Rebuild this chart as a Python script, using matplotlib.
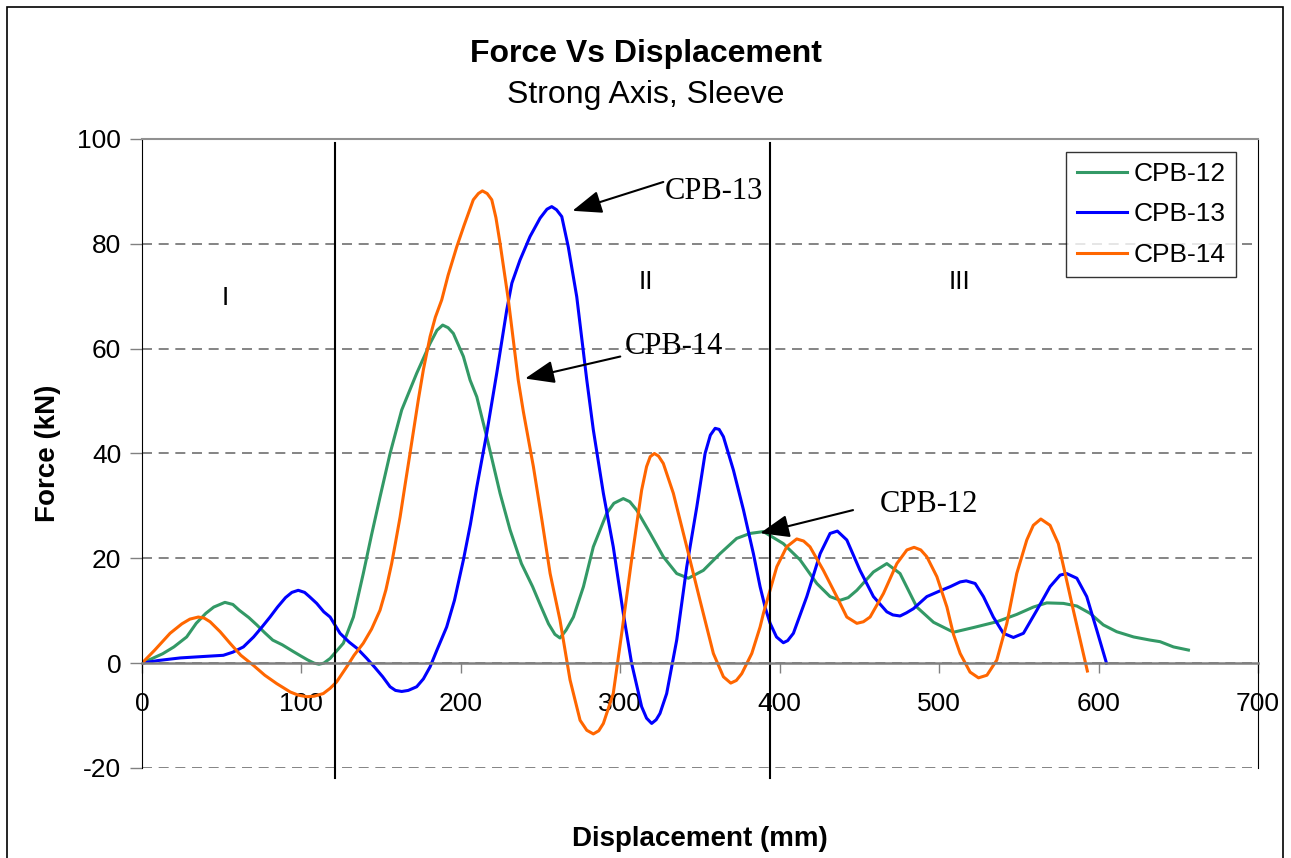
import matplotlib.pyplot as plt
from matplotlib.patches import Rectangle

plt.rcParams['font.family'] = ['Liberation Sans', 'DejaVu Sans']
plt.rcParams['axes.unicode_minus'] = False

# CPB-12
x12 = [0, 13, 20, 28, 34, 40, 45, 52, 57, 61, 67, 72, 77, 82, 88, 95, 100, 104, 108, 111, 114,
       118, 122, 126.3, 132.6, 138.8, 144, 149.3, 155.6, 162.9, 172.3, 180.7, 185, 188.6, 192,
       195.3, 201.6, 205.8, 210, 216.2, 224.6, 230.9, 238, 245, 250, 255, 259, 262.2, 266,
       270.6, 276.9, 283.1, 291.5, 296, 301.9, 306, 310.3, 318.7, 327, 335.4, 342.7, 352.1,
       362.6, 373, 381.4, 389.8, 402.3, 412.8, 423.3, 431.6, 437.9, 443, 448.4, 458.8, 467.2,
       475.5, 486, 496.5, 509, 521.6, 536.2, 548.7, 559.1, 567.5, 578, 586.4, 594.7, 603,
       611.4, 622, 632.4, 638.6, 647, 656.4]
y12 = [0, 1.8, 3.1, 5, 7.6, 9.5, 10.7, 11.6, 11.2, 10.1, 8.7, 7.3, 5.8, 4.4, 3.5, 2.2, 1.3, 0.6,
       0, -0.2, 0, 0.9, 2.3, 3.8, 8.8, 17.1, 24.5, 31.7, 40, 48.3, 55.3, 61, 63.5, 64.5, 64,
       62.9, 58.5, 54, 50.8, 43.2, 32.4, 25.4, 19, 14.6, 11, 7.5, 5.5, 4.8, 6.3,
       8.8, 14.6, 22.2, 28.6, 30.5, 31.4, 30.8, 29.2, 24.8, 20.3, 17.1, 16.2, 17.7,
       20.9, 23.8, 24.75, 25.1, 22.8, 19.7, 15.2, 12.7, 12, 12.5, 13.9, 17.4, 19,
       17.1, 10.7, 7.8, 5.9, 6.8, 7.9, 9.3, 10.7, 11.5, 11.4, 10.9, 9.5, 7.3,
       6, 5, 4.4, 4.1, 3.1, 2.5]

# CPB-13
x13 = [0, 10, 24, 40, 51, 57, 63.6, 70, 75, 80.3, 85, 90, 94, 98, 102, 105, 109.6, 114, 118,
       124.2, 130, 135, 141, 146, 151, 155.6, 159, 162.9, 167, 172.3, 176.5, 180.7, 185, 191.1,
       196, 201.6, 206, 210, 216.2, 222.5, 228.8, 232, 237.1, 243.4, 249.7, 254, 257, 260,
       263.3, 267.4, 272.7, 279, 283.1, 289.4, 295.6, 301.9, 307.1, 313.4, 316.5, 319.7, 322.5,
       324.9, 329.1, 335.4, 341.7, 348, 353.2, 356.5, 359.5, 362, 364.7, 371, 377.3, 383.5,
       387.7, 391, 394, 398, 402.3, 405, 408.6, 417, 425.4, 431.6, 436.2, 442.1, 450.4, 458.8,
       467.2, 471, 475.5, 479.5, 483.9, 492.3, 500.6, 507, 513.2, 517, 522.6, 527.8, 534,
       540.3, 546.6, 552.9, 561.3, 569.6, 575.9, 580, 586.4, 592.6, 598.9, 605]
y13 = [0, 0.5, 1.0, 1.3, 1.5, 2.1, 3.1, 5, 6.8, 8.8, 10.7, 12.5, 13.5, 13.9, 13.5, 12.7, 11.4,
       9.8, 8.8, 5.7, 4, 2.8, 0.9, -0.8, -2.6, -4.5, -5.2, -5.4, -5.2, -4.5, -3, -0.7, 2.5,
       6.9, 12, 19.7, 26.5, 33.6, 43.8, 55.3, 67.4, 72.5, 76.9, 81.4, 84.9, 86.6, 87.1, 86.5,
       85.2, 79.4, 69.9, 54, 44.5, 32.4, 22.2, 9.5, 0, -8.3, -10.5, -11.5, -10.8,
       -9.6, -5.8, 4.4, 18.4, 29.8, 40, 43.5, 44.8, 44.6, 43.2, 36.8, 29.2, 20.9,
       14.6, 10.5, 7.6, 5, 3.9, 4.3, 5.7, 12.7, 20.9, 24.75, 25.2, 23.5, 17.7, 12.7,
       9.8, 9.2, 9, 9.6, 10.4, 12.7, 13.8, 14.6, 15.5, 15.7, 15.2, 12.7, 8.8,
       5.7, 4.9, 5.7, 10.1, 14.6, 16.8, 17.1, 16.2, 12.7, 6.3, 0]

# CPB-14
x14 = [0, 8, 17.6, 25, 30, 35.3, 39, 42.7, 49, 55.2, 62, 69.8, 77, 84.5, 93, 98, 103.3, 108,
       113.7, 118, 122, 128.4, 133, 138.8, 144, 149.3, 153, 156.6, 159, 161.9, 165, 168.1,
       173.3, 176.5, 180.7, 184, 188, 192, 197.4, 202, 207.8, 211, 213.5, 216.5, 219.4, 222,
       224.6, 229.8, 236, 239.2, 245.5, 251, 256, 262.2, 268.5, 274.8, 279, 283.1, 286.5,
       289.4, 295.6, 300.9, 307.1, 313.4, 316.5, 318.8, 321.4, 324, 327, 333.3, 341.7, 350,
       358.4, 364.7, 369.3, 372.8, 376.2, 382.5, 387.7, 389.8, 398.2, 404.4, 410.7, 415, 419,
       427.4, 435.8, 442.1, 448.4, 452.5, 456.7, 465.1, 473.5, 479.8, 484.3, 488.5, 492.3,
       498.6, 504.9, 509, 513.2, 519.4, 524.7, 530, 536.2, 542.5, 548.7, 555, 559.1, 563.8,
       569.6, 574.8, 580, 584.2, 589.5, 593]
y14 = [0, 2.5, 5.7, 7.5, 8.4, 8.8, 8.6, 7.9, 6, 3.8, 1.5, -0.4, -2.3, -3.9, -5.5, -6.1, -6.4,
       -6.3, -5.8, -4.8, -3.6, -0.7, 1.5, 3.8, 6.5, 10.1, 14, 19, 23, 27.9, 34, 40,
       50.2, 56, 62.3, 66, 69.3, 74, 79.4, 83.5, 88.4, 89.6, 90.1, 89.6, 88.4, 85,
       80.1, 69.3, 54, 48, 37.5, 27, 17.1, 8.2, -3.2, -10.9, -12.8, -13.5, -12.9,
       -11.5, -5.8, 5.7, 19.7, 33, 37.5, 39.4, 40, 39.5, 38.1, 32.4, 22.2, 12,
       1.85, -2.6, -3.8, -3.3, -2, 1.85, 6.9, 9.5, 18.4, 22.2, 23.7, 23.3, 22.2,
       17.7, 12.7, 8.8, 7.6, 7.9, 8.8, 13.3, 19, 21.6, 22.1, 21.6, 20.3,
       16.5, 10.7, 5.5, 1.85, -1.7, -2.8, -2.3, 0.6, 7.6, 17.1, 23.5, 26.3, 27.5,
       26.3, 22.8, 15.8, 10.1, 3.1, -1.5]

regions = ['I', 'II', 'III']
region_x = [52, 316, 513]
region_y = [69.7, 72.7, 72.7]
bounds = [121, 394]

fig = plt.figure(figsize=(12.91, 8.58), dpi=100)
ax = fig.add_axes([0.110, 0.1049, 0.8644, 0.7331])

ax.plot(x12, y12, color='#339966', lw=2.2, label='CPB-12')
ax.plot(x13, y13, color='#0000FF', lw=2.2, label='CPB-13')
ax.plot(x14, y14, color='#FF6600', lw=2.2, label='CPB-14')

ax.set_xlim(0, 700)
ax.set_ylim(-20, 100)
ax.set_xticks(range(0, 701, 100))
ax.set_yticks(range(-20, 101, 20))

ax.grid(axis='y', color='#707070', linestyle=(0, (6, 4)), lw=1.2)
ax.set_axisbelow(True)

ax.spines['bottom'].set_position(('data', 0))
ax.spines['bottom'].set_color('#808080')
ax.spines['bottom'].set_linewidth(1.8)
ax.spines['top'].set_color('#909090')
ax.spines['top'].set_linewidth(1.5)
ax.spines['left'].set_color('black')
ax.spines['right'].set_color('black')

ax.tick_params(axis='x', direction='out', length=7, width=1, color='#808080',
               labelsize=19, pad=14)
ax.tick_params(axis='y', direction='out', length=9, width=1, color='#808080',
               labelsize=19, pad=6)

for b in bounds:
    ax.plot([b, b], [99.3, -21.9], color='black', lw=1.5, clip_on=False)

for t, rx, ry in zip(regions, region_x, region_y):
    ax.text(rx, ry, t, fontsize=19, ha='center', va='center')

arrow = dict(arrowstyle='-|>,head_length=0.9,head_width=0.35', color='black',
             lw=1.5, mutation_scale=20, shrinkA=0, shrinkB=0)
ax.annotate('', xy=(270, 86.3), xytext=(327, 91.8), arrowprops=arrow)
ax.annotate('', xy=(240.3, 54.3), xytext=(300, 58.5), arrowprops=arrow)
ax.annotate('', xy=(387.7, 24.8), xytext=(446, 29.2), arrowprops=arrow)
serif = ['Liberation Serif', 'DejaVu Serif']
ax.text(328, 89.9, 'CPB-13', family=serif, fontsize=22, va='center')
ax.text(303, 60.4, 'CPB-14', family=serif, fontsize=22, va='center')
ax.text(463, 30.2, 'CPB-12', family=serif, fontsize=22, va='center')

leg = ax.legend(loc='upper left', bbox_to_anchor=(0.828, 0.980), borderaxespad=0,
                fontsize=19, frameon=True, fancybox=False, handlelength=1.9,
                handletextpad=0.25, borderpad=0.4, labelspacing=0.62)
leg.get_frame().set_edgecolor('black')
leg.get_frame().set_linewidth(1)

ax.set_xlabel('Displacement (mm)', fontsize=20, fontweight='bold')
ax.xaxis.set_label_coords(0.5, -0.093)
ax.set_ylabel('Force (kN)', fontsize=20, fontweight='bold')
ax.yaxis.set_label_coords(-0.073, 0.5)

fig.text(0.5, 0.937, 'Force Vs Displacement', fontsize=23, fontweight='bold',
         ha='center', va='center')
fig.text(0.5, 0.889, 'Strong Axis, Sleeve', fontsize=23, ha='center', va='center')

fig.patches.append(Rectangle((7 / 1291, -0.01), 1276 / 1291, 1 - 7 / 858 + 0.01,
                             transform=fig.transFigure, fill=False,
                             edgecolor='black', lw=1.2))

fig.savefig('out.png', dpi=100)
